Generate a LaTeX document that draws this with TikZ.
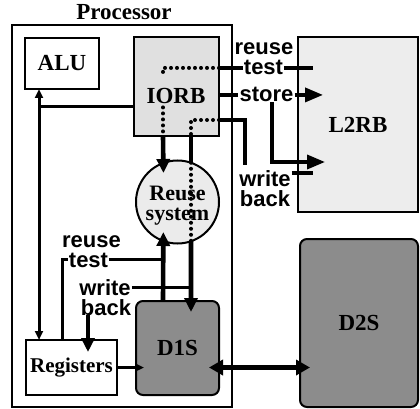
\documentclass[tikz,border=0pt]{standalone}
\usepackage{fontspec}
\setmainfont{Liberation Serif}
\newfontfamily\lblsf{Liberation Sans}
\usetikzlibrary{arrows.meta,calc}
\begin{document}
\begin{tikzpicture}[x=1pt,y=-1pt,
  boxlbl/.style={font=\fontsize{23}{23}\selectfont\bfseries},
  blk/.style={draw, line width=2pt, anchor=north west, inner sep=0pt, outer sep=0pt, boxlbl},
  sflbl/.style={font=\lblsf\fontsize{22}{22}\selectfont\bfseries, inner xsep=1pt, inner ysep=0pt, anchor=base},
  conn/.style={line width=3.6pt},
  thinconn/.style={line width=3pt},
  thickconn/.style={line width=4.6pt},
  bigtip/.style={-{Triangle[length=14pt,width=13pt]}},
  storetip/.style={-{Triangle[length=18pt,width=14pt]}},
  smalltip/.style={-{Triangle[length=9pt,width=8pt]}},
  dots/.style={line width=4pt, line cap=round, dash pattern=on 0pt off 6pt},
]
\useasboundingbox (0,0) rectangle (420,409);
\fill[white] (0,0) rectangle (420,409);

% helper coordinates
\coordinate (xa) at (163,0);
\coordinate (xb) at (191,0);
\coordinate (xc) at (62,0);
\coordinate (xd) at (88,0);
\coordinate (xw) at (245,0);
\coordinate (xs) at (272,0);
\coordinate (yw) at (0,120);
\coordinate (ybr) at (0,162);
\coordinate (xbus) at (39,107);

% processor
\node[draw, line width=1.6pt, anchor=north west, minimum width=220pt, minimum height=382pt, inner sep=0pt, outer sep=0pt] (proc) at (12,25) {};
\node[boxlbl, anchor=base, inner sep=0pt] (proct) at (124,20) {Processor};

% blocks
\node[blk, fill=white, minimum width=74pt, minimum height=51pt] (alu) at (25,38) {ALU};
\node[blk, line width=2.2pt, fill=black!12, minimum width=85pt, minimum height=99pt] (iorb) at (134,37) {};
\node[blk, fill=black!7, minimum width=120pt, minimum height=175pt] (l2rb) at (298,37) {L2RB};
\node[draw, line width=2pt, circle, fill=black!8, minimum size=83pt, inner sep=0pt, outer sep=0pt] (reuse) at (177.5,202) {};
\node[blk, rounded corners=7pt, fill=black!45, minimum width=83pt, minimum height=94pt] (d1s) at (136,301) {D1S};
\node[blk, rounded corners=7pt, fill=black!45, minimum width=118pt, minimum height=168pt] (d2s) at (300,239) {D2S};
\node[blk, fill=white, minimum width=91pt, minimum height=55pt, font=\fontsize{21}{21}\selectfont\bfseries] (regs) at (26,340) {Registers};

% text inside IORB and reuse system
\node[boxlbl, anchor=base, inner sep=0pt] (iorbt) at (176,103) {IORB};
\node[align=center, inner sep=0pt, font=\fontsize{22}{20}\selectfont\bfseries] (reuset) at (177.5,206) {Reuse\\system};

% connector labels
\node[sflbl] (ttA) at (264,55) {reuse};
\node[sflbl] (ttB) at (263.5,75) {test};
\node[sflbl] (tst) at (266.5,102) {store};
\node[sflbl] (twA) at (265,186) {write};
\node[sflbl] (twB) at (265,206) {back};
\node[sflbl] (lrA) at (91.5,247) {reuse};
\node[sflbl] (lrB) at (88.5,267) {test};
\node[sflbl] (lwA) at (105,295) {write};
\node[sflbl] (lwB) at (106,315) {back};

% bus ALU / IORB / Registers
\draw[thinconn] (iorb.west |- xbus) -- (xbus);
\draw[thinconn, {Triangle[length=9pt,width=8pt]}-{Triangle[length=9pt,width=8pt]}] (alu.south -| xbus) -- (regs.north -| xbus);

% IORB <-> reuse system <-> D1S
\draw[thickconn, bigtip, shorten >=-10pt] (iorb.south -| xa) -- (reuse.110);
\draw[thickconn, bigtip, shorten >=-9pt] (d1s.north -| xa) -- (reuse.-110);
\draw[conn] (iorb.south -| xb) -- (reuse.71);
\draw[dots] (reuse.71) -- (reuse.-71);
\draw[thickconn, bigtip, shorten >=-11pt] (reuse.-71) -- (d1s.north -| xb);

% dotted paths inside IORB
\draw[dots] (iorb.east |- ttB.west) -- (xa |- ttB.west) -- ($(xa |- ttB.west)+(0,7)$);
\draw[dots] ($(iorbt.south -| xa)+(0,4)$) -- (iorb.south -| xa);
\draw[dots] (iorb.east |- yw) -- (xb |- yw) -- (iorb.south -| xb);

% lower reuse test
\draw[thinconn] (regs.north -| xc) |- (lrB.west);
\draw[thinconn] (lrB.east) -- (lrB.east -| xa);

% lower write back
\draw[thinconn] (lwA.east) -- (lwA.east -| xb);
\draw[conn, bigtip, shorten >=-12pt] (lwB.south -| xd) -- (regs.north -| xd);

% Registers -> D1S, D1S <-> D2S
\draw[conn, smalltip, shorten >=-8pt] (regs.east) -- (regs.east -| d1s.west);
\draw[thickconn, {Triangle[length=14pt,width=15pt]}-{Triangle[length=14pt,width=15pt]}, shorten <=-10pt, shorten >=-10pt] (regs.east -| d1s.east) -- (regs.east -| d2s.west);

% IORB <-> L2RB
\draw[conn] (iorb.east |- ttB.west) -- (ttB.west);
\draw[conn] (ttB.east) -- ($(l2rb.west |- ttB.east)+(15,0)$);
\draw[conn] (iorb.east |- tst.west) -- (tst.west);
\draw[conn, storetip, shorten >=-25pt] (tst.east) -- (l2rb.west |- tst.east);
\draw[conn, storetip, shorten >=-27pt] (tst.south -| xs) |- (l2rb.west |- ybr);
\draw[conn] (iorb.east |- yw) -- (xw |- yw) -- ($(twA.north -| xw)+(0,-5)$);
\draw[conn] ($(twA.east)+(0,-5)$) -- ($(l2rb.west |- twA.east)+(15,-5)$);
\end{tikzpicture}
\end{document}
